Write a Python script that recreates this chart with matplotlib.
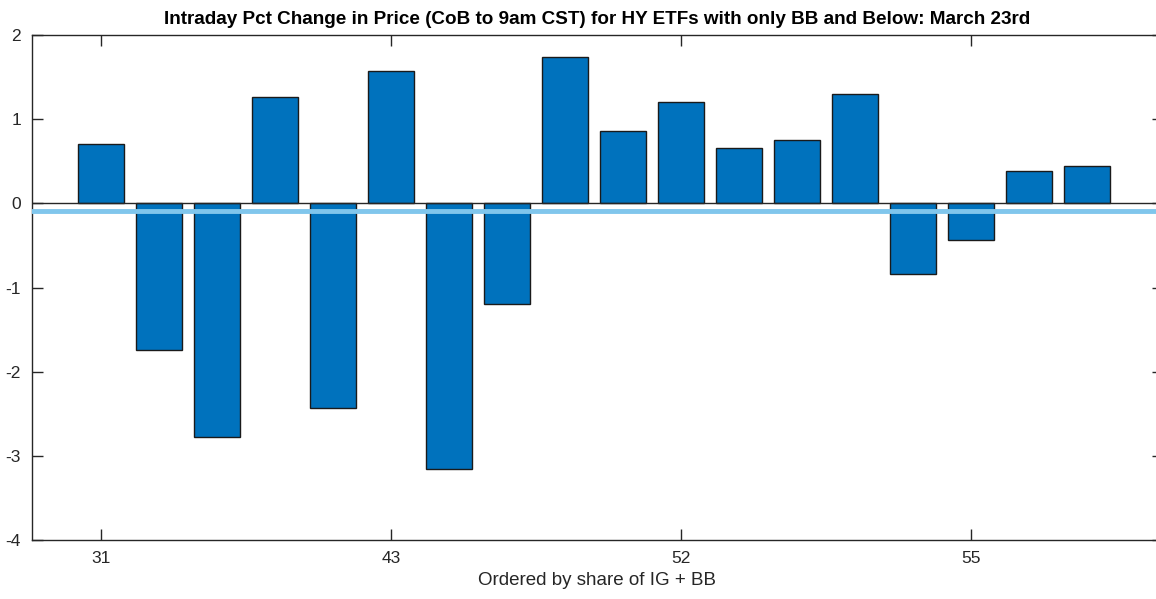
import numpy as np
import matplotlib
matplotlib.use("Agg")
import matplotlib.pyplot as plt

plt.rcParams['font.family'] = ['Liberation Sans', 'DejaVu Sans']

# variaçao intraday por ETF, ordenado por share de IG + BB
valores = [0.70, -1.74, -2.78, 1.26, -2.43, 1.57, -3.16, -1.20, 1.74,
           0.86, 1.20, 0.66, 0.75, 1.30, -0.84, -0.44, 0.38, 0.44]
tick_pos = [1, 6, 11, 16]
tick_labels = ['31', '43', '52', '55']

x = np.arange(1, len(valores) + 1)
media = np.mean(valores)

fig = plt.figure(figsize=(11.56, 5.99), dpi=100)
ax = fig.add_axes([32 / 1156, 1 - 540 / 599, (1163 - 32) / 1156, (540 - 35) / 599])

ax.bar(x, valores, width=0.8, color='#0072BD', edgecolor='#1a1a1a', linewidth=1.0, zorder=2)
ax.axhline(0, color='#262626', linewidth=1.0, zorder=3)
ax.axhline(media, color='#80C6EC', linewidth=3.5, zorder=4)

ax.set_xlim(1 - 1.19, len(valores) + 1.31)
ax.set_ylim(-4, 2)
ax.set_yticks([-4, -3, -2, -1, 0, 1, 2])
ax.set_yticklabels(['-4', '-3', '-2', '-1', '0', '1', '2'])
ax.set_xticks(tick_pos)
ax.set_xticklabels(tick_labels)

ax.tick_params(direction='in', top=True, right=True, length=8, width=1.0,
               colors='#262626', labelsize=12.5, pad=8)
for s in ax.spines.values():
    s.set_color('#262626')
    s.set_linewidth(1.0)

ax.set_title('Intraday Pct Change in Price (CoB to 9am CST) for HY ETFs with only BB and Below: March 23rd',
             fontsize=13.6, fontweight='bold', color='black', pad=8)
ax.set_xlabel('Ordered by share of IG + BB', fontsize=13.5, color='#262626', labelpad=4)

fig.savefig('out.png', dpi=100)
